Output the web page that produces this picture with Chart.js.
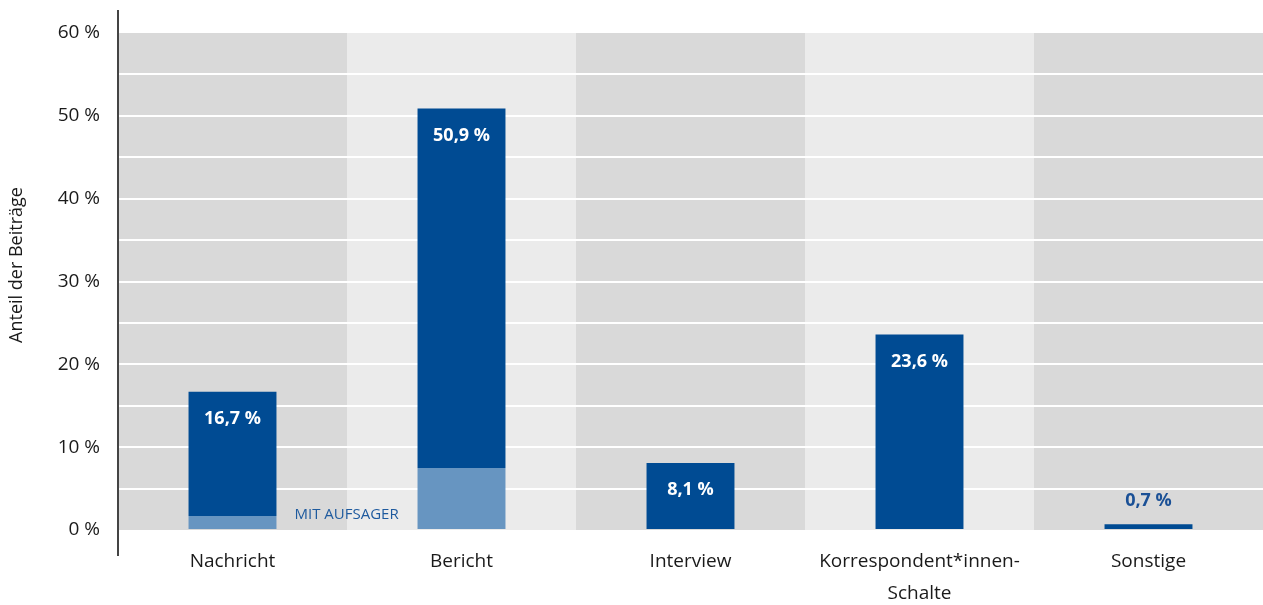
<!DOCTYPE html>
<html>
<head>
<meta charset="utf-8">
<script src="https://cdn.jsdelivr.net/npm/chart.js@4/dist/chart.umd.min.js"></script>
<style>
  html, body { margin: 0; padding: 0; background: #fff; }
  #wrap { width: 1263px; height: 605px; }
</style>
</head>
<body>
<div id="wrap"><canvas id="c"></canvas></div>
<script>
// Daten
const categories = ['Nachricht', 'Bericht', 'Interview', ['Korrespondent*innen-', 'Schalte'], 'Sonstige'];
const totals = [16.7, 50.9, 8.1, 23.6, 0.7];
const aufsager = [1.7, 7.5, 0, 0, 0];
const totalLabels = ['16,7 %', '50,9 %', '8,1 %', '23,6 %', '0,7 %'];
const rest = totals.map((t, i) => +(t - aufsager[i]).toFixed(1));

const DARK = '#004b93';
const LIGHT = '#6795c1';
const FONT = "'Open Sans', 'Noto Sans', sans-serif";

// Hintergrundspalten
const columnBg = {
  id: 'columnBg',
  beforeDraw(chart) {
    const { ctx, chartArea: a, scales: { x } } = chart;
    const w = (a.right - a.left) / categories.length;
    ctx.save();
    categories.forEach((c, i) => {
      ctx.fillStyle = i % 2 === 0 ? '#d9d9d9' : '#ebebeb';
      const cx = x.getPixelForValue(i);
      ctx.fillRect(cx - w / 2, a.top, w, a.bottom - a.top);
    });
    ctx.restore();
  }
};

// Achsenlinie, Achsentitel, Wertebeschriftung, "MIT AUFSAGER"
const overlay = {
  id: 'overlay',
  afterDraw(chart) {
    const { ctx, chartArea: a, scales: { x, y } } = chart;
    ctx.save();
    ctx.strokeStyle = '#444';
    ctx.lineWidth = 2;
    ctx.beginPath();
    ctx.moveTo(a.left, 10);
    ctx.lineTo(a.left, 556);
    ctx.stroke();

    // y-Titel
    ctx.save();
    ctx.translate(17, 265);
    ctx.rotate(-Math.PI / 2);
    ctx.textAlign = 'center';
    ctx.textBaseline = 'middle';
    ctx.fillStyle = '#1a1a1a';
    ctx.font = "18px " + FONT;
    ctx.fillText('Anteil der Beiträge', 0, 0);
    ctx.restore();

    ctx.textAlign = 'center';
    ctx.textBaseline = 'middle';
    ctx.font = "bold 18px " + FONT;
    totals.forEach((t, i) => {
      const px = x.getPixelForValue(i);
      const top = y.getPixelForValue(t);
      if (t < 3) {
        ctx.fillStyle = '#1a5096';
        ctx.fillText(totalLabels[i], px, top - 23);
      } else {
        ctx.fillStyle = '#fff';
        ctx.fillText(totalLabels[i], px, top + 27);
      }
    });

    const bar = chart.getDatasetMeta(0).data[0];
    ctx.font = "15px " + FONT;
    ctx.fillStyle = '#1e5a9e';
    ctx.textAlign = 'left';
    ctx.fillText('MIT AUFSAGER', bar.x + bar.width / 2 + 18, y.getPixelForValue(aufsager[0]) - 1);
    ctx.restore();
  }
};

new Chart(document.getElementById('c'), {
  type: 'bar',
  data: {
    labels: categories,
    datasets: [
      { label: 'mit Aufsager', data: aufsager, backgroundColor: LIGHT, barPercentage: 0.384, categoryPercentage: 1 },
      { label: 'ohne Aufsager', data: rest, backgroundColor: DARK, barPercentage: 0.384, categoryPercentage: 1 }
    ]
  },
  options: {
    responsive: true,
    maintainAspectRatio: false,
    animation: false,
    layout: { padding: { top: 33, right: 0 } },
    plugins: { legend: { display: false }, tooltip: { enabled: false } },
    scales: {
      x: {
        stacked: true,
        grid: { display: false },
        border: { display: false },
        ticks: { color: '#1a1a1a', padding: 8, font: { family: FONT, size: 19, lineHeight: 1.68 } },
        afterFit(s) { s.height = 75; }
      },
      y: {
        stacked: true,
        min: 0,
        max: 60,
        border: { display: false },
        grid: {
          color: c => (c.tick && (c.tick.value === 0 || c.tick.value === 60)) ? 'rgba(0,0,0,0)' : '#fff',
          lineWidth: 2,
          drawTicks: false
        },
        ticks: {
          stepSize: 5,
          padding: 18,
          color: '#1a1a1a',
          font: { family: FONT, size: 19 },
          callback: v => v % 10 === 0 ? v + ' %' : ''
        },
        afterFit(s) { s.width = 118; }
      }
    }
  },
  plugins: [columnBg, overlay]
});
</script>
</body>
</html>
